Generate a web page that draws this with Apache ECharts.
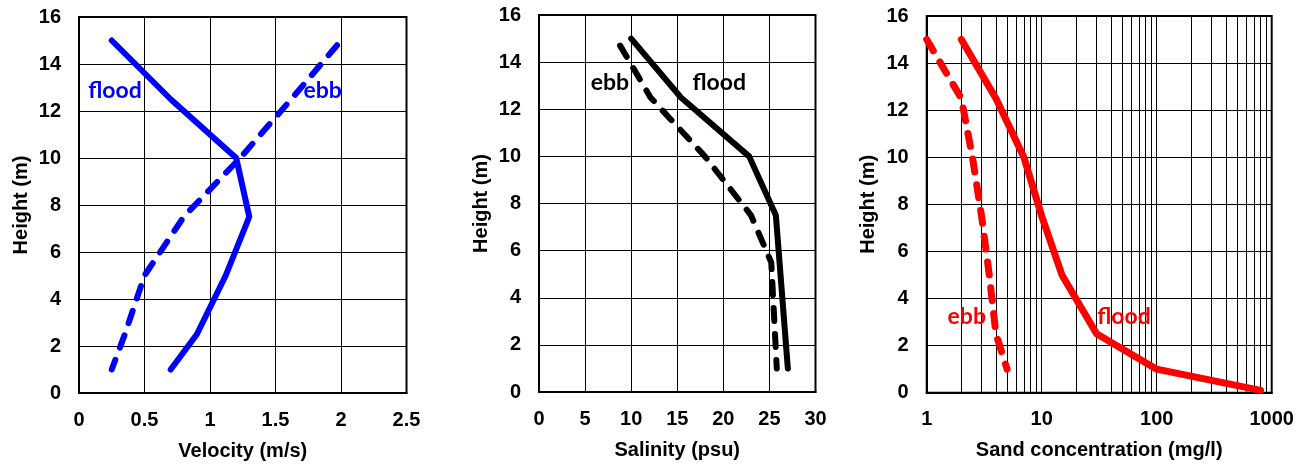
<!DOCTYPE html>
<html>
<head>
<meta charset="utf-8">
<script src="https://cdn.jsdelivr.net/npm/echarts@6/dist/echarts.min.js"></script>
<style>
html,body{margin:0;padding:0;background:#fff;}
#chart{width:1308px;height:466px;}
</style>
</head>
<body>
<div id="chart"></div>
<script>
// ---- data ----
const velFloodHeight = [15, 12.5, 10, 7.5, 5, 2.5, 1];
const velFlood       = [0.25, 0.7, 1.2, 1.3, 1.12, 0.9, 0.7];
const velEbbHeight   = [14.8, 12.5, 10, 7.5, 5, 2.5, 1];
const velEbb         = [1.97, 1.62, 1.23, 0.8, 0.5, 0.35, 0.25];

const salFloodHeight = [15, 12.5, 10, 7.5, 1];
const salFlood       = [10, 15.4, 22.8, 25.7, 27];
const salEbbHeight   = [14.7, 12.5, 10, 7.5, 5.5, 1];
const salEbb         = [8.8, 12.1, 18, 23, 25.2, 25.8];

const sandFloodHeight = [15, 12.5, 10, 7.5, 5, 2.5, 1, 0.1];
const sandFlood       = [2, 4, 7, 10, 15, 30, 100, 800];
const sandEbbHeight   = [15, 12.5, 10, 7.5, 5, 2.5, 1];
const sandEbb         = [1, 2, 2.5, 3, 3.5, 4, 5];

const logMinorTicks = [2,3,4,5,6,7,8,9,20,30,40,50,60,70,80,90,200,300,400,500,600,700,800,900];

const xTitles = ['Velocity (m/s)', 'Salinity (psu)', 'Sand concentration (mg/l)'];
const yTitle = 'Height (m)';

function pairs(xs, ys) { return xs.map((x, i) => [x, ys[i]]); }

// ---- styling ----
const FONT = 'Liberation Sans, Arial, sans-serif';
const LABEL_FONT = 'Lato, Open Sans, sans-serif';
const grids = [
  {left: 79, top: 17, width: 327.5, height: 378},
  {left: 539, top: 15, width: 276.5, height: 377},
  {left: 926.7, top: 16, width: 345, height: 376.7}
];
const xAxisCfg = [
  {type: 'value', min: 0, max: 2.5, interval: 0.5},
  {type: 'value', min: 0, max: 30, interval: 5},
  {type: 'log', logBase: 10, min: 1, max: 1000}
];

const axisText = {fontFamily: FONT, fontWeight: 'bold', fontSize: 20, color: '#000'};
const splitLine = {show: true, lineStyle: {color: '#000', width: 1}};

const option = {
  animation: false,
  backgroundColor: '#fff',
  grid: grids.map(g => Object.assign({show: true, borderColor: '#000', borderWidth: 2, backgroundColor: 'transparent'}, g)),
  xAxis: xAxisCfg.map((c, i) => Object.assign({
    gridIndex: i,
    name: xTitles[i],
    nameLocation: 'middle',
    nameGap: 48,
    nameTextStyle: axisText,
    axisLine: {show: true, lineStyle: {color: '#000', width: 2}},
    axisTick: {show: false},
    axisLabel: Object.assign({margin: 17, formatter: v => String(v)}, axisText),
    splitLine: splitLine
  }, c)),
  yAxis: [0, 1, 2].map(i => ({
    gridIndex: i,
    type: 'value', min: 0, max: 16, interval: 2,
    name: yTitle,
    nameLocation: 'middle',
    nameGap: 48,
    nameTextStyle: axisText,
    axisLine: {show: true, lineStyle: {color: '#000', width: 2}},
    axisTick: {show: false},
    axisLabel: Object.assign({margin: 18}, axisText),
    splitLine: splitLine
  })),
  series: []
};

// minor log grid lines for panel 3
option.series.push({
  type: 'line', xAxisIndex: 2, yAxisIndex: 2, data: [], silent: true, z: 1,
  markLine: {
    silent: true, symbol: ['none', 'none'], animation: false,
    label: {show: false},
    lineStyle: {color: '#000', width: 1, type: 'solid'},
    emphasis: {disabled: true},
    data: logMinorTicks.map(v => ({xAxis: v}))
  }
});

function lineSeries(idx, name, xs, ys, color, width, dashed, labelCoord) {
  return {
    type: 'line', name: name, xAxisIndex: idx, yAxisIndex: idx,
    data: pairs(xs, ys), symbol: 'none', z: 5,
    lineStyle: {color: color, width: width, type: dashed ? [13, 13] : 'solid', cap: 'round', join: 'round'},
    markPoint: {
      symbol: 'circle', symbolSize: 0, silent: true,
      data: [{coord: labelCoord, value: name}],
      label: {show: true, position: 'inside', formatter: name, color: color,
        fontFamily: LABEL_FONT, fontWeight: 'bold', fontSize: 23}
    }
  };
}

option.series.push(lineSeries(0, 'flood', velFlood, velFloodHeight, '#0000ff', 6, false, [0.275, 12.88]));
option.series.push(lineSeries(0, 'ebb', velEbb, velEbbHeight, '#0000ff', 6, true, [1.86, 12.88]));
option.series.push(lineSeries(1, 'flood', salFlood, salFloodHeight, '#000000', 6, false, [19.55, 13.13]));
option.series.push(lineSeries(1, 'ebb', salEbb, salEbbHeight, '#000000', 6, true, [7.7, 13.13]));
option.series.push(lineSeries(2, 'flood', sandFlood, sandFloodHeight, '#ff0000', 7, false, [52, 3.23]));
option.series.push(lineSeries(2, 'ebb', sandEbb, sandEbbHeight, '#ff0000', 7, true, [2.23, 3.23]));

const chart = echarts.init(document.getElementById('chart'), null, {renderer: 'canvas'});
chart.setOption(option);
</script>
</body>
</html>
